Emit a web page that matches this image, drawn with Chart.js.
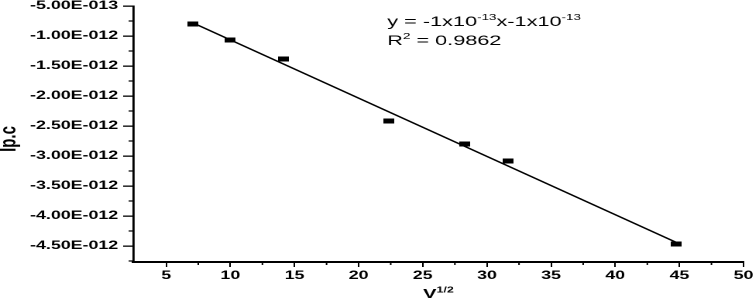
<!DOCTYPE html>
<html>
<head>
<meta charset="utf-8">
<script src="https://cdn.jsdelivr.net/npm/chart.js@4.4.0/dist/chart.umd.min.js"></script>
<style>
    html, body { margin: 0; padding: 0; background: #fff; overflow: hidden; }
    /* the reference figure is stretched sideways, so draw narrow and widen it */
    #wrap { width: 488px; height: 303px; transform: scaleX(1.549); transform-origin: 0 0; }
</style>
</head>
<body>
<div id="wrap"><canvas id="ipChart" width="488" height="303"></canvas></div>
<script>
// data: x = V^(1/2), y = Ip.c
const sqrtScanRate = [7.07, 10, 14.14, 22.36, 28.28, 31.62, 44.72];
const peakCurrent = [-0.80e-12, -1.067e-12, -1.383e-12, -2.417e-12, -2.80e-12, -3.083e-12, -4.467e-12];

const xTicks = [5, 10, 15, 20, 25, 30, 35, 40, 45, 50];
const xMinorTicks = [7.5, 12.5, 17.5, 22.5, 27.5, 32.5, 37.5, 42.5, 47.5];
const yTicks = [-5e-13, -1e-12, -1.5e-12, -2e-12, -2.5e-12, -3e-12, -3.5e-12, -4e-12, -4.5e-12];
const yMinorTicks = [-7.5e-13, -1.25e-12, -1.75e-12, -2.25e-12, -2.75e-12, -3.25e-12, -3.75e-12, -4.25e-12, -4.75e-12];

const equationParts = [['y = -1x10', false], ['-13', true], ['x-1x10', false], ['-13', true]];
const rSquaredParts = [['R', false], ['2', true], [' = 0.9862', false]];
const xTitleParts = [['V', false], ['1/2', true]];
const yTitle = 'Ip.c';

const FONT = "'Liberation Sans', Arial, sans-serif";

// least squares fit drawn between first and last point
function linearFit(xs, ys) {
    const n = xs.length;
    const mx = xs.reduce((a, b) => a + b, 0) / n;
    const my = ys.reduce((a, b) => a + b, 0) / n;
    let sxy = 0, sxx = 0;
    for (let i = 0; i < n; i++) {
        sxy += (xs[i] - mx) * (ys[i] - my);
        sxx += (xs[i] - mx) * (xs[i] - mx);
    }
    const slope = sxy / sxx;
    return { slope, intercept: my - slope * mx };
}
const fit = linearFit(sqrtScanRate, peakCurrent);
const xFirst = sqrtScanRate[0];
const xLast = sqrtScanRate[sqrtScanRate.length - 1];
const fitLine = [
    { x: xFirst, y: fit.slope * xFirst + fit.intercept },
    { x: xLast, y: fit.slope * xLast + fit.intercept }
];

// small black block used as marker
const marker = document.createElement('canvas');
marker.width = 7;
marker.height = 5;
const mctx = marker.getContext('2d');
mctx.fillStyle = '#000';
mctx.fillRect(0, 0, 7, 5);

function formatSci(v) {
    const s = v.toExponential(2);          // "-5.00e-13"
    const [mant, exp] = s.split('e');
    const e = parseInt(exp, 10);
    const sign = e < 0 ? '-' : '+';
    return mant + 'E' + sign + String(Math.abs(e)).padStart(3, '0');
}

function drawRich(ctx, parts, x, y, size, weight) {
    let cx = x;
    parts.forEach(([text, sup]) => {
        const fs = sup ? size * 0.62 : size;
        ctx.font = `${weight} ${fs}px ${FONT}`;
        ctx.fillText(text, cx, sup ? y - size * 0.42 : y);
        cx += ctx.measureText(text).width;
    });
}

function richWidth(ctx, parts, size, weight) {
    let w = 0;
    parts.forEach(([text, sup]) => {
        ctx.font = `${weight} ${sup ? size * 0.62 : size}px ${FONT}`;
        w += ctx.measureText(text).width;
    });
    return w;
}

const extrasPlugin = {
    id: 'extras',
    afterDraw(chart) {
        const ctx = chart.ctx;
        const xs = chart.scales.x;
        const ys = chart.scales.y;
        ctx.save();
        ctx.strokeStyle = '#000';
        ctx.fillStyle = '#000';

        // minor ticks
        ctx.lineWidth = 1;
        xMinorTicks.forEach(v => {
            const px = xs.getPixelForValue(v);
            ctx.beginPath();
            ctx.moveTo(px, xs.top);
            ctx.lineTo(px, xs.top + 3);
            ctx.stroke();
        });
        ctx.lineWidth = 1.2;
        yMinorTicks.forEach(v => {
            const py = ys.getPixelForValue(v);
            ctx.beginPath();
            ctx.moveTo(ys.right, py);
            ctx.lineTo(ys.right - 3, py);
            ctx.stroke();
        });

        // fit equation
        ctx.textBaseline = 'alphabetic';
        ctx.textAlign = 'left';
        drawRich(ctx, equationParts, 250, 26, 14, 'normal');
        drawRich(ctx, rSquaredParts, 250, 45, 14, 'normal');

        // x title
        const w = richWidth(ctx, xTitleParts, 13, 'bold');
        const mid = (chart.chartArea.left + chart.chartArea.right) / 2;
        drawRich(ctx, xTitleParts, mid - w / 2, 298, 13, 'bold');

        // y title
        ctx.translate(6, 139);
        ctx.rotate(-Math.PI / 2);
        ctx.textAlign = 'center';
        ctx.textBaseline = 'middle';
        ctx.font = `bold 15px ${FONT}`;
        ctx.fillText(yTitle, 0, 0);
        ctx.restore();
    }
};

const ctx = document.getElementById('ipChart').getContext('2d');
new Chart(ctx, {
    type: 'scatter',
    data: {
        datasets: [
            {
                label: 'Ip.c',
                data: sqrtScanRate.map((x, i) => ({ x, y: peakCurrent[i] })),
                pointStyle: marker,
                pointRadius: 4,
                backgroundColor: '#000',
                borderColor: '#000'
            },
            {
                label: 'Linear fit',
                type: 'line',
                data: fitLine,
                borderColor: '#000',
                borderWidth: 1.4,
                pointRadius: 0,
                fill: false
            }
        ]
    },
    options: {
        responsive: false,
        animation: false,
        devicePixelRatio: 2,
        layout: { padding: { left: 0, right: 8, top: 6, bottom: 0 } },
        plugins: {
            legend: { display: false },
            tooltip: { enabled: false }
        },
        scales: {
            x: {
                type: 'linear',
                min: 2.43,
                max: 50,
                afterBuildTicks: scale => { scale.ticks = xTicks.map(v => ({ value: v })); },
                afterFit: scale => { scale.height = 41; scale.paddingLeft = 0; scale.paddingRight = 0; },
                border: { display: true, color: '#000', width: 2 },
                grid: { drawOnChartArea: false, color: '#000', lineWidth: 1, tickLength: 5 },
                ticks: {
                    color: '#000',
                    padding: 2,
                    maxRotation: 0,
                    font: { family: FONT, size: 11.5, weight: 'bold' },
                    callback: v => String(v)
                }
            },
            y: {
                type: 'linear',
                min: -4.767e-12,
                max: -5e-13,
                afterBuildTicks: scale => { scale.ticks = yTicks.map(v => ({ value: v })); },
                afterFit: scale => { scale.width = 86; scale.paddingTop = 0; scale.paddingBottom = 0; },
                border: { display: true, color: '#000', width: 1.4 },
                grid: { drawOnChartArea: false, color: '#000', lineWidth: 1.3, tickLength: 6.5 },
                ticks: {
                    color: '#000',
                    padding: 3.2,
                    font: { family: FONT, size: 11.5, weight: 'bold' },
                    callback: v => formatSci(v)
                }
            }
        }
    },
    plugins: [extrasPlugin]
});
</script>
</body>
</html>
